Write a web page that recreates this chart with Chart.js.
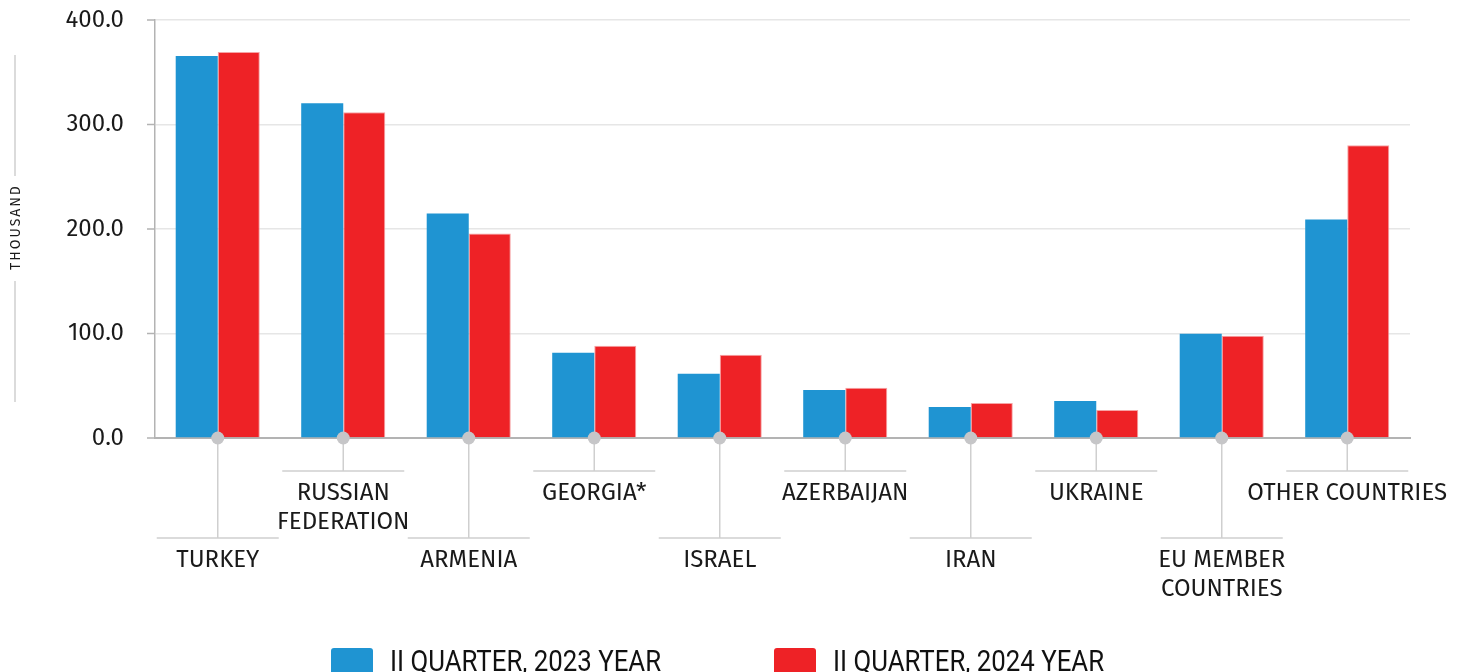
<!DOCTYPE html>
<html lang="en">
<head>
  <meta charset="UTF-8">
  <title>II quarter 2023 vs 2024</title>
  <script src="https://cdn.jsdelivr.net/npm/chart.js"></script>
  <style>
    html, body { margin: 0; padding: 0; background: #fff; }
    #wrap { width: 1464px; height: 672px; position: relative; }
  </style>
</head>
<body>
  <div id="wrap"><canvas id="chart" width="1464" height="672"></canvas></div>
  <script>
    // data
    const categories = [
      ['TURKEY'], ['RUSSIAN', 'FEDERATION'], ['ARMENIA'], ['GEORGIA*'], ['ISRAEL'],
      ['AZERBAIJAN'], ['IRAN'], ['UKRAINE'], ['EU MEMBER', 'COUNTRIES'], ['OTHER COUNTRIES']
    ];
    const values2023 = [365.5, 320.4, 214.9, 81.5, 61.4, 46.0, 29.7, 35.5, 99.8, 209.1];
    const values2024 = [369.3, 311.8, 195.7, 88.2, 79.6, 48.0, 33.6, 26.9, 97.8, 280.1];
    const seriesNames = ['II QUARTER, 2023 YEAR', 'II QUARTER, 2024 YEAR'];
    const yTicks = [0, 100, 200, 300, 400];
    const yTitle = 'THOUSAND';

    const BLUE = '#1f94d2';
    const RED = '#ee2226';
    const FONT = "'Fira Sans', 'Noto Sans', sans-serif";

    // staggered category labels, connector lines, dots, y ticks, y title, legend
    const decor = {
      id: 'decor',
      afterDraw(chart) {
        const { ctx, scales } = chart;
        const x = scales.x;
        const y = scales.y;
        const y0 = y.getPixelForValue(0);
        ctx.save();

        // short tick marks left of the y axis
        ctx.strokeStyle = '#b3b3b3';
        ctx.lineWidth = 1.5;
        ctx.beginPath();
        yTicks.forEach(v => {
          const py = y.getPixelForValue(v);
          ctx.moveTo(147, py);
          ctx.lineTo(y.right, py);
        });
        ctx.stroke();

        categories.forEach((lines, i) => {
          const cx = x.getPixelForTick(i);
          const low = i % 2 === 0;
          const lineY = low ? 538 : 471;
          ctx.strokeStyle = '#cfcfcf';
          ctx.lineWidth = 1.5;
          ctx.beginPath();
          ctx.moveTo(cx, y0);
          ctx.lineTo(cx, lineY);
          ctx.moveTo(cx - 61, lineY);
          ctx.lineTo(cx + 61, lineY);
          ctx.stroke();
          ctx.fillStyle = '#c6c6c8';
          ctx.beginPath();
          ctx.arc(cx, y0, 6.5, 0, Math.PI * 2);
          ctx.fill();
          ctx.fillStyle = '#1a1a1a';
          ctx.font = '24px ' + FONT;
          ctx.textAlign = 'center';
          ctx.textBaseline = 'middle';
          lines.forEach((t, k) => {
            ctx.fillText(t, cx, lineY + 22 + k * 29);
          });
        });

        // y title with lines
        ctx.strokeStyle = '#cfcfcf';
        ctx.lineWidth = 1.5;
        ctx.beginPath();
        ctx.moveTo(15, 55); ctx.lineTo(15, 176);
        ctx.moveTo(15, 281); ctx.lineTo(15, 402);
        ctx.stroke();
        ctx.save();
        ctx.translate(16, 228);
        ctx.rotate(-Math.PI / 2);
        ctx.fillStyle = '#1a1a1a';
        ctx.font = '14px ' + FONT;
        ctx.letterSpacing = '2px';
        ctx.textAlign = 'center';
        ctx.textBaseline = 'middle';
        ctx.fillText(yTitle, 1, 0);
        ctx.restore();

        // legend (condensed look)
        const legendX = [331, 774];
        chart.data.datasets.forEach((ds, i) => {
          const lx = legendX[i];
          ctx.fillStyle = ds.backgroundColor;
          ctx.beginPath();
          ctx.roundRect(lx, 648, 42, 30, 3);
          ctx.fill();
          ctx.save();
          ctx.translate(lx + 59, 671);
          ctx.scale(0.86, 1);
          ctx.fillStyle = '#111';
          ctx.font = "30px 'Roboto', sans-serif";
          ctx.textAlign = 'left';
          ctx.textBaseline = 'alphabetic';
          ctx.fillText(ds.label, 0, 0);
          ctx.restore();
        });
        ctx.restore();
      }
    };

    new Chart(document.getElementById('chart'), {
      type: 'bar',
      data: {
        labels: categories,
        datasets: [
          { label: seriesNames[0], data: values2023, backgroundColor: BLUE },
          { label: seriesNames[1], data: values2024, backgroundColor: RED, borderColor: '#f6a4a5', borderWidth: { top: 1, left: 1, right: 1, bottom: 0 } }
        ]
      },
      options: {
        responsive: false,
        animation: false,
        layout: { padding: { left: 0, right: 54, top: 20, bottom: 226 } },
        datasets: { bar: { categoryPercentage: 0.67, barPercentage: 1.0 } },
        plugins: { legend: { display: false }, tooltip: { enabled: false } },
        scales: {
          x: {
            ticks: { display: false },
            grid: { display: false },
            border: { color: '#b3b3b3', width: 2 }
          },
          y: {
            min: 0,
            max: 400,
            afterFit(scale) { scale.width = 155; },
            afterBuildTicks(scale) { scale.ticks = yTicks.map(v => ({ value: v })); },
            ticks: {
              padding: 0,
              color: '#1a1a1a',
              font: { family: FONT, size: 24 },
              callback: v => v.toFixed(1)
            },
            grid: { color: '#e6e6e6', tickLength: 31, tickColor: 'rgba(0,0,0,0)', lineWidth: 1.5 },
            border: { color: '#b3b3b3', width: 1.5 }
          }
        }
      },
      plugins: [decor]
    });
  </script>
</body>
</html>
